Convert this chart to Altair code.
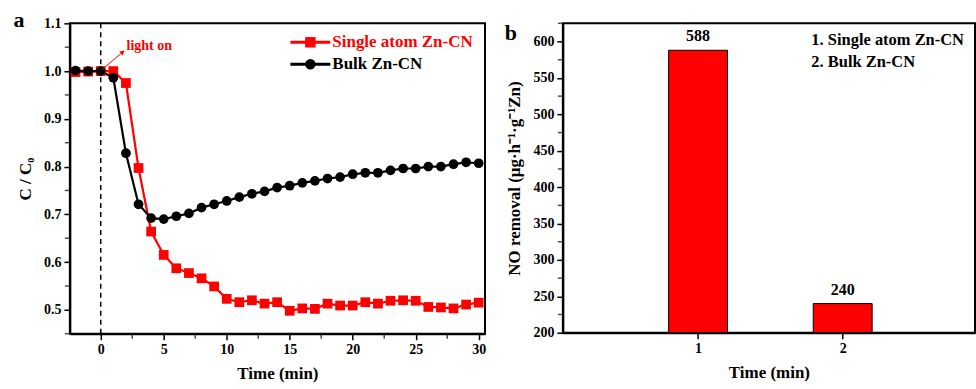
import altair as alt
import pandas as pd

# ---------------- data ----------------
time_min = list(range(-2, 31))
single_atom = [0.998, 0.999, 1.0, 1.0, 0.975, 0.797, 0.664, 0.615, 0.587, 0.577, 0.566,
               0.549, 0.523, 0.516, 0.520, 0.513, 0.516, 0.498, 0.503, 0.502, 0.513,
               0.509, 0.509, 0.516, 0.513, 0.519, 0.520, 0.519, 0.506, 0.505, 0.503,
               0.511, 0.515]
bulk = [1.001, 1.0, 1.0, 0.986, 0.828, 0.721, 0.692, 0.690, 0.696, 0.702, 0.714,
        0.721, 0.728, 0.736, 0.743, 0.748, 0.756, 0.760, 0.766, 0.770, 0.775,
        0.778, 0.784, 0.787, 0.787, 0.792, 0.796, 0.796, 0.800, 0.800, 0.805,
        0.809, 0.807]
series_names = ["Single atom Zn-CN", "Bulk Zn-CN"]
series_colors = ["#ff0000", "#000000"]

left_x_major = [0, 5, 10, 15, 20, 25, 30]
left_x_minor = [2.5, 7.5, 12.5, 17.5, 22.5, 27.5]
left_y_major = [0.5, 0.6, 0.7, 0.8, 0.9, 1.0, 1.1]
left_y_minor = [0.45, 0.55, 0.65, 0.75, 0.85, 0.95, 1.05]

bar_positions = [1, 2]
bar_values = [588, 240]
bar_labels = ["588", "240"]
right_y_major = [200, 250, 300, 350, 400, 450, 500, 550, 600]
right_y_minor = [225, 275, 325, 375, 425, 475, 525, 575, 625]
sample_notes = ["1. Single atom Zn-CN", "2. Bulk Zn-CN"]

annotation_text = ["light on"]

FONT = "Liberation Serif"
LW, LH = 416, 311
RW, RH = 413, 310

df = pd.DataFrame({
    "time": time_min * 2,
    "value": single_atom + bulk,
    "series": [series_names[0]] * len(time_min) + [series_names[1]] * len(time_min),
})

color_scale = alt.Scale(domain=series_names, range=series_colors)
shape_scale = alt.Scale(domain=series_names, range=["square", "circle"])

x_left = alt.X(
    "time:Q", title="Time (min)",
    scale=alt.Scale(domain=[-2.45, 30.5], nice=False, zero=False),
    axis=alt.Axis(values=left_x_major, format="d", tickSize=6, labelOverlap=False),
)
y_left = alt.Y(
    "value:Q", title="C / C₀",
    scale=alt.Scale(domain=[0.45, 1.1], nice=False, zero=False),
    axis=alt.Axis(values=left_y_major, format=".1f", tickSize=6, labelOverlap=False),
)

base_left = alt.Chart(df)
lines = base_left.mark_line(strokeWidth=2.2).encode(
    x=x_left, y=y_left,
    color=alt.Color("series:N", scale=color_scale, legend=None),
    detail="series:N",
)
points = base_left.mark_point(filled=True, size=95, opacity=1).encode(
    x="time:Q", y="value:Q",
    color=alt.Color("series:N", scale=color_scale, legend=None),
    shape=alt.Shape("series:N", scale=shape_scale, legend=None),
)

# minor ticks (positions through the panel scales)
minor_x_left = alt.Chart(pd.DataFrame({"time": left_x_minor})).mark_tick(
    orient="vertical", size=4, thickness=1.5, color="black"
).encode(x="time:Q", y=alt.value(LH + 3))
minor_y_left = alt.Chart(pd.DataFrame({"value": left_y_minor})).mark_tick(
    orient="horizontal", size=4, thickness=1.5, color="black"
).encode(y="value:Q", x=alt.value(-3))

# manual legend (keys drawn at fixed pixel spots inside the plot)
legend_df = pd.DataFrame({"series": series_names})
def legend_entry(name, ypix, shape):
    src = alt.Chart(legend_df).transform_filter(alt.datum.series == name)
    col = series_colors[series_names.index(name)]
    seg = src.mark_rule(strokeWidth=3, color=col).encode(
        x=alt.value(221), x2=alt.value(261), y=alt.value(ypix))
    mk = src.mark_point(shape=shape, filled=True, size=110, opacity=1, color=col).encode(
        x=alt.value(241), y=alt.value(ypix))
    txt = src.mark_text(align="left", baseline="middle", font=FONT, fontWeight="bold",
                        fontSize=17, color=col).encode(
        x=alt.value(263), y=alt.value(ypix), text="series:N")
    return [seg, mk, txt]

legend_layers = legend_entry(series_names[0], 19, "square") + legend_entry(series_names[1], 41, "circle")

light_df = pd.DataFrame({"time": [0.0]})
dash = alt.Chart(light_df).mark_rule(strokeDash=[5, 4], strokeWidth=1.5, color="black").encode(
    x="time:Q"
)
arrow_df = pd.DataFrame({"time": [0.1], "value": [1.003], "time2": [1.75], "value2": [1.04]})
arrow = alt.Chart(arrow_df).mark_rule(color="#ff0000", strokeWidth=1).encode(
    x="time:Q", y="value:Q", x2="time2:Q", y2="value2:Q"
)
arrow_head = alt.Chart(arrow_df).mark_point(shape="triangle-up", angle=50, size=30, filled=True,
                                            color="#ff0000", opacity=1).encode(
    x="time2:Q", y="value2:Q"
)
light_txt_df = pd.DataFrame({"time": [2.05], "value": [1.052], "t": annotation_text})
light_txt = alt.Chart(light_txt_df).mark_text(align="left", baseline="middle", font=FONT,
                                              fontWeight="bold", fontSize=14, color="#ff0000").encode(
    x="time:Q", y="value:Q", text="t:N"
)
label_a = alt.Chart(pd.DataFrame({"t": ["a"]})).mark_text(
    font=FONT, fontWeight="bold", fontSize=22, align="center", baseline="middle"
).encode(x=alt.value(-51), y=alt.value(-3), text="t:N")

left = alt.layer(lines, points, dash, arrow, arrow_head, light_txt, minor_x_left, minor_y_left,
                 label_a, *legend_layers).properties(width=LW, height=LH)

# ---------------- right panel ----------------
bar_df = pd.DataFrame({"pos": bar_positions, "val": bar_values, "lab": bar_labels})
x_right = alt.X(
    "pos:Q", title="Time (min)",
    scale=alt.Scale(domain=[0.1, 2.88], nice=False, zero=False),
    axis=alt.Axis(values=bar_positions, format="d", tickSize=6, labelOverlap=False),
)
y_right = alt.Y(
    "val:Q", title="NO removal (μg·h⁻¹·g⁻¹Zn)",
    scale=alt.Scale(domain=[200, 625], nice=False, zero=False),
    axis=alt.Axis(values=right_y_major, format="d", tickSize=6, labelOverlap=False,
                  tickCount=len(right_y_major)),
)
bars = alt.Chart(bar_df).mark_bar(size=59, color="#ff0000", stroke="black", strokeWidth=1).encode(
    x=x_right, y=y_right, y2=alt.datum(200)
)
bar_text = alt.Chart(bar_df).mark_text(baseline="bottom", dy=-6, font=FONT, fontWeight="bold",
                                       fontSize=16, color="black").encode(
    x="pos:Q", y="val:Q", text="lab:N"
)
minor_y_right = alt.Chart(pd.DataFrame({"val": right_y_minor})).mark_tick(
    orient="horizontal", size=4, thickness=1.5, color="black"
).encode(y="val:Q", x=alt.value(-3))
notes1 = alt.Chart(pd.DataFrame({"t": [sample_notes[0]]})).mark_text(
    align="left", baseline="middle", font=FONT, fontWeight="bold", fontSize=16.5
).encode(x=alt.value(249), y=alt.value(17), text="t:N")
notes2 = alt.Chart(pd.DataFrame({"t": [sample_notes[1]]})).mark_text(
    align="left", baseline="middle", font=FONT, fontWeight="bold", fontSize=16.5
).encode(x=alt.value(249), y=alt.value(39), text="t:N")
label_b = alt.Chart(pd.DataFrame({"t": ["b"]})).mark_text(
    font=FONT, fontWeight="bold", fontSize=22, align="center", baseline="middle"
).encode(x=alt.value(-52), y=alt.value(10), text="t:N")

right = alt.layer(bars, bar_text, minor_y_right, notes1, notes2, label_b).properties(
    width=RW, height=RH
)

chart = alt.hconcat(left, right, spacing=16).properties(
    padding={"left": 12, "top": 8, "right": 0, "bottom": 0},
    background="white",
).configure_view(
    stroke="black", strokeWidth=2
).configure_axis(
    grid=False, domainColor="black", domainWidth=2, tickColor="black", tickWidth=1.5,
    labelFont=FONT, labelFontWeight="bold", labelFontSize=14, labelColor="black",
    titleFont=FONT, titleFontWeight="bold", titleFontSize=17, titleColor="black",
    labelPadding=3, titlePadding=9,
)

chart.save("out.html", embed_options={"renderer": "svg", "actions": False})
